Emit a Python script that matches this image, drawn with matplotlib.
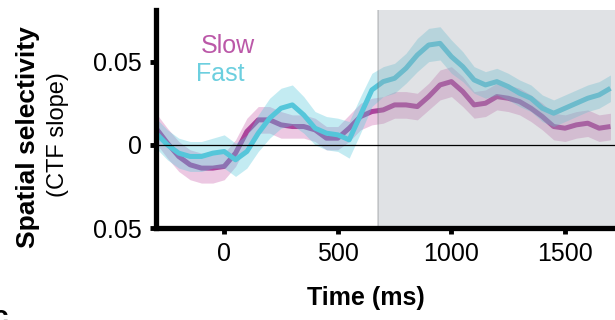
import matplotlib.pyplot as plt
import numpy as np
from matplotlib.patches import Rectangle

plt.rcParams["font.family"] = ["Liberation Sans", "DejaVu Sans"]

# time grid (ms) and values
tiempo = np.arange(-300, 1701, 50)

slow = [0.010, 0.001, -0.007, -0.012, -0.014, -0.014, -0.013, -0.005, 0.008, 0.015,
        0.015, 0.012, 0.011, 0.011, 0.009, 0.004, 0.004, 0.010, 0.017, 0.020,
        0.021, 0.024, 0.024, 0.023, 0.029, 0.036, 0.038, 0.032, 0.024, 0.025,
        0.029, 0.028, 0.026, 0.022, 0.017, 0.011, 0.010, 0.012, 0.013, 0.010,
        0.011]
slow_err = [0.009, 0.009, 0.009, 0.009, 0.009, 0.009, 0.008, 0.008, 0.008, 0.008,
            0.008, 0.008, 0.007, 0.007, 0.007, 0.007, 0.007, 0.008, 0.008, 0.008,
            0.008, 0.008, 0.008, 0.008, 0.008, 0.009, 0.009, 0.009, 0.008, 0.008,
            0.008, 0.008, 0.008, 0.008, 0.008, 0.008, 0.008, 0.008, 0.008, 0.008,
            0.008]

fast = [0.007, 0.000, -0.005, -0.007, -0.007, -0.005, -0.004, -0.009, -0.004, 0.007,
        0.016, 0.022, 0.024, 0.018, 0.010, 0.007, 0.006, 0.003, 0.018, 0.033,
        0.038, 0.040, 0.046, 0.054, 0.060, 0.061, 0.053, 0.047, 0.039, 0.036,
        0.038, 0.035, 0.031, 0.028, 0.022, 0.019, 0.022, 0.025, 0.028, 0.030,
        0.034]
fast_err = [0.009, 0.009, 0.009, 0.009, 0.009, 0.009, 0.010, 0.010, 0.010, 0.011,
            0.012, 0.012, 0.012, 0.011, 0.010, 0.010, 0.010, 0.011, 0.011, 0.010,
            0.009, 0.009, 0.009, 0.010, 0.010, 0.010, 0.010, 0.009, 0.008, 0.008,
            0.008, 0.008, 0.008, 0.008, 0.008, 0.008, 0.008, 0.008, 0.008, 0.008,
            0.008]

ventana_inicio = 677

slow = np.array(slow)
fast = np.array(fast)
slow_err = np.array(slow_err)
fast_err = np.array(fast_err)

color_slow = "#ac449c"
color_fast = "#55c6da"

fig = plt.figure(figsize=(6.15, 3.2), dpi=100)
ax = fig.add_axes([0.2537, 0.2875, 0.7463, 0.681])

ax.fill_between(tiempo, slow - slow_err, slow + slow_err, color="#c85aa8",
                alpha=0.33, lw=0, zorder=2)
ax.plot(tiempo, slow, color=color_slow, lw=3.6, zorder=3,
        solid_capstyle="butt", solid_joinstyle="round")
ax.fill_between(tiempo, fast - fast_err, fast + fast_err, color="#55c8dc",
                alpha=0.35, lw=0, zorder=4)
ax.plot(tiempo, fast, color=color_fast, lw=3.6, zorder=5,
        solid_capstyle="butt", solid_joinstyle="round")

# gray window drawn over the curves
ax.add_patch(Rectangle((ventana_inicio, -0.05), 3000, 0.2, facecolor="#a0a6b0",
                       alpha=0.32, edgecolor="#6a6e74", lw=1.2, zorder=6))

ax.axhline(0, color="black", lw=0.9, zorder=7)

ax.set_xlim(-300, 1720)
ax.set_ylim(-0.05, 0.081)
ax.set_xticks([0, 500, 1000, 1500])
ax.set_yticks([-0.05, 0, 0.05])
ax.set_yticklabels(["0.05", "0", "0.05"])
ax.tick_params(labelsize=18, width=3.5, length=4, color="black", pad=6)

for lado in ["top", "right"]:
    ax.spines[lado].set_visible(False)
for lado in ["left", "bottom"]:
    ax.spines[lado].set_linewidth(3.8)
    ax.spines[lado].set_zorder(8)

fig.text(0.046, 0.57, "Spatial selectivity", rotation=90, fontsize=19,
         fontweight="bold", ha="center", va="center")
fig.text(0.094, 0.58, "(CTF slope)", rotation=90, fontsize=17,
         ha="center", va="center")
fig.text(0.595, 0.068, "Time (ms)", fontsize=18, fontweight="bold",
         ha="center", va="center")

fig.text(0.327, 0.855, "Slow", fontsize=18, color="#bb58a8", ha="left", va="center")
fig.text(0.318, 0.768, "Fast", fontsize=18, color="#6ccfdf", ha="left", va="center")

# clipped panel letter
fig.text(-0.012, -0.035, "c", fontsize=20, fontweight="bold", ha="left", va="bottom")

fig.savefig("out.png", dpi=100)
